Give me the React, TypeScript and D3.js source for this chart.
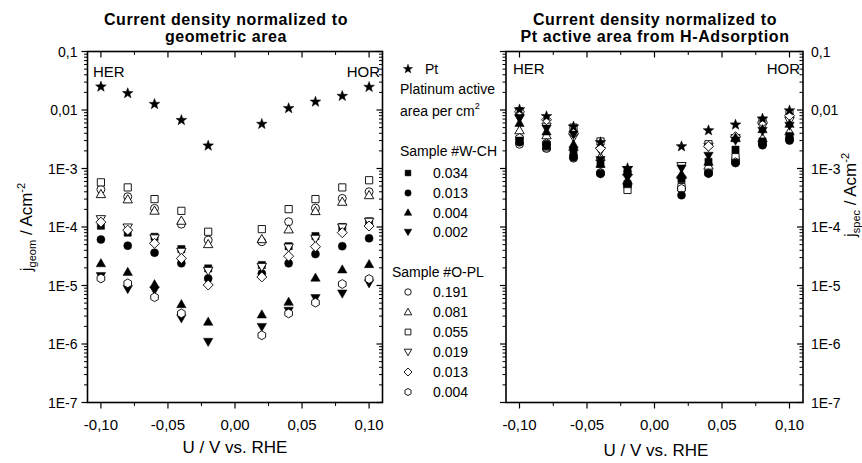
import React from 'react';
import * as d3 from 'd3';

// ---------- data ----------
const potentials = [-0.10, -0.08, -0.06, -0.04, -0.02, 0.02, 0.04, 0.06, 0.08, 0.10];
const xTickValues = [-0.10, -0.05, 0.0, 0.05, 0.10];
const xTickLabels = ['-0,10', '-0,05', '0,00', '0,05', '0,10'];
const xMinorTicks = [-0.075, -0.025, 0.025, 0.075];
const yTickValues = [1e-1, 1e-2, 1e-3, 1e-4, 1e-5, 1e-6, 1e-7];
const yTickLabels = ['0,1', '0,01', '1E-3', '1E-4', '1E-5', '1E-6', '1E-7'];

// left panel: current density normalized to geometric area (A cm^-2)
const geomPt = [0.025, 0.0193, 0.0126, 0.0067, 0.00245, 0.00575, 0.0107, 0.0138, 0.0173, 0.0247];
const geomWCH034 = [1.05e-4, 8.0e-5, 6.8e-5, 4.2e-5, 1.96e-5, 2.24e-5, 4.7e-5, 7.0e-5, 1.0e-4, 1.25e-4];
const geomWCH013 = [6.1e-5, 4.8e-5, 3.63e-5, 2.4e-5, 1.32e-5, 1.6e-5, 2.39e-5, 3.44e-5, 4.7e-5, 6.4e-5];
const geomWCH004 = [2.4e-5, 1.71e-5, 1.05e-5, 4.8e-6, 2.4e-6, 3.2e-6, 5.26e-6, 1.36e-5, 1.88e-5, 2.32e-5];
const geomWCH002 = [1.45e-5, 8.7e-6, 8.3e-6, 2.75e-6, 1.09e-6, 1.96e-6, 3.7e-6, 6.1e-6, 7.3e-6, 1.09e-5];
const geomOPL191 = [4.4e-4, 3.29e-4, 2.08e-4, 1.12e-4, 5.97e-5, 5.6e-5, 1.23e-4, 2.1e-4, 3.08e-4, 4.0e-4];
const geomOPL081 = [3.65e-4, 2.97e-4, 1.9e-4, 1.28e-4, 5.1e-5, 6.2e-5, 9.1e-5, 1.87e-4, 2.7e-4, 3.5e-4];
const geomOPL055 = [5.8e-4, 4.75e-4, 3.0e-4, 1.89e-4, 8.3e-5, 9.2e-5, 2.02e-4, 3.0e-4, 4.75e-4, 6.3e-4];
const geomOPL019 = [1.36e-4, 9.8e-5, 6.4e-5, 3.77e-5, 1.78e-5, 2.08e-5, 4.47e-5, 6.3e-5, 9.8e-5, 1.23e-4];
const geomOPL013 = [1.21e-4, 8.85e-5, 5.25e-5, 2.9e-5, 1.02e-5, 1.4e-5, 3.17e-5, 4.6e-5, 8.0e-5, 1.04e-4];
const geomOPL004 = [1.32e-5, 1.09e-5, 6.3e-6, 3.33e-6, null, 1.41e-6, 3.33e-6, 5.1e-6, 1.06e-5, 1.29e-5];

// right panel: current density normalized to Pt active area (A cm^-2)
const specPt = [0.0102, 0.0078, 0.0052, 0.0028, 0.00101, 0.00238, 0.00447, 0.0056, 0.0071, 0.0098];
const specWCH034 = [3.0e-3, 2.4e-3, 2.0e-3, 1.2e-3, 5.4e-4, 6.6e-4, 1.3e-3, 2.1e-3, 2.9e-3, 3.6e-3];
const specWCH013 = [2.8e-3, 2.6e-3, 1.55e-3, 8.1e-4, 8.9e-4, 3.5e-4, 8.2e-4, 1.24e-3, 2.5e-3, 3.0e-3];
const specWCH004 = [6.0e-3, 4.3e-3, 2.6e-3, 1.2e-3, 6.0e-4, 8.0e-4, 1.3e-3, 3.4e-3, 4.7e-3, 5.8e-3];
const specWCH002 = [7.3e-3, 4.8e-3, 3.8e-3, 1.4e-3, 7.0e-4, 1.0e-3, 1.65e-3, 3.0e-3, 4.4e-3, 5.4e-3];
const specOPL191 = [2.6e-3, 2.2e-3, 1.5e-3, 8.5e-4, 5.0e-4, 4.5e-4, 9.0e-4, 1.4e-3, 2.6e-3, 3.1e-3];
const specOPL081 = [4.5e-3, 3.7e-3, 2.35e-3, 1.58e-3, 6.3e-4, 7.7e-4, 1.12e-3, 3.3e-3, 3.3e-3, 4.3e-3];
const specOPL055 = [9.5e-3, 2.3e-3, 5.0e-3, 2.9e-3, 4.3e-4, 4.8e-4, 2.6e-3, 1.56e-3, 6.5e-3, 8.5e-3];
const specOPL019 = [7.2e-3, 5.2e-3, 3.4e-3, 2.0e-3, 9.4e-4, 1.1e-3, 2.35e-3, 3.3e-3, 5.2e-3, 6.5e-3];
const specOPL013 = [9.3e-3, 6.8e-3, 4.0e-3, 2.2e-3, 7.8e-4, 7.1e-4, 2.4e-3, 3.5e-3, 6.2e-3, 8.0e-3];
const specOPL004 = [3.3e-3, 2.7e-3, 1.6e-3, 8.3e-4, null, 4.5e-4, 8.3e-4, 1.28e-3, 2.65e-3, 3.2e-3];

const wchLabels = ['0.034', '0.013', '0.004', '0.002'];
const oplLabels = ['0.191', '0.081', '0.055', '0.019', '0.013', '0.004'];

type Shape = 'star' | 'square' | 'circle' | 'triUp' | 'triDown' | 'diamond' | 'hexagon';
interface Series { shape: Shape; filled: boolean; geom: (number | null)[]; spec: (number | null)[]; }

const ptSeries: Series = { shape: 'star', filled: true, geom: geomPt, spec: specPt };
const wchSeries: Series[] = [
  { shape: 'square', filled: true, geom: geomWCH034, spec: specWCH034 },
  { shape: 'circle', filled: true, geom: geomWCH013, spec: specWCH013 },
  { shape: 'triUp', filled: true, geom: geomWCH004, spec: specWCH004 },
  { shape: 'triDown', filled: true, geom: geomWCH002, spec: specWCH002 },
];
const oplSeries: Series[] = [
  { shape: 'circle', filled: false, geom: geomOPL191, spec: specOPL191 },
  { shape: 'triUp', filled: false, geom: geomOPL081, spec: specOPL081 },
  { shape: 'square', filled: false, geom: geomOPL055, spec: specOPL055 },
  { shape: 'triDown', filled: false, geom: geomOPL019, spec: specOPL019 },
  { shape: 'diamond', filled: false, geom: geomOPL013, spec: specOPL013 },
  { shape: 'hexagon', filled: false, geom: geomOPL004, spec: specOPL004 },
];

// ---------- marker shapes ----------
function markerPath(shape: Shape, s = 1): string {
  switch (shape) {
    case 'square': {
      const h = 3.6 * s;
      return `M${-h},${-h}H${h}V${h}H${-h}Z`;
    }
    case 'circle': {
      const r = 4 * s;
      return `M${r},0A${r},${r} 0 1,1 ${-r},0A${r},${r} 0 1,1 ${r},0Z`;
    }
    case 'triUp': {
      const a = 4.7 * s;
      return `M0,${-a}L${a},${a * 0.75}L${-a},${a * 0.75}Z`;
    }
    case 'triDown': {
      const a = 4.7 * s;
      return `M0,${a}L${a},${-a * 0.75}L${-a},${-a * 0.75}Z`;
    }
    case 'diamond': {
      const a = 5 * s;
      return `M0,${-a}L${a},0L0,${a}L${-a},0Z`;
    }
    case 'hexagon': {
      const r = 4.4 * s;
      const pts = d3.range(6).map((i) => {
        const ang = (Math.PI / 3) * i - Math.PI / 2;
        return [r * Math.cos(ang), r * Math.sin(ang)];
      });
      return 'M' + pts.map((p) => p.join(',')).join('L') + 'Z';
    }
    case 'star': {
      const R = 5.6 * s;
      const r = 2.3 * s;
      const pts = d3.range(10).map((i) => {
        const ang = (Math.PI / 5) * i - Math.PI / 2;
        const rr = i % 2 === 0 ? R : r;
        return [rr * Math.cos(ang), rr * Math.sin(ang)];
      });
      return 'M' + pts.map((p) => p.map((v) => v.toFixed(2)).join(',')).join('L') + 'Z';
    }
  }
  return '';
}

function Marker({ shape, filled, x, y, s = 1 }: { shape: Shape; filled: boolean; x: number; y: number; s?: number }) {
  return (
    <path
      d={markerPath(shape, s)}
      transform={`translate(${x},${y})`}
      fill={filled ? '#000' : '#fff'}
      stroke="#000"
      strokeWidth={filled ? 0.5 : 0.9}
    />
  );
}

const FONT = 'Liberation Sans, Arial, sans-serif';

interface PanelProps {
  x0: number; x1: number; y0: number; y1: number;
  series: Series[];
  key2: 'geom' | 'spec';
  labelSide: 'left' | 'right';
}

function Panel({ x0, x1, y0, y1, series, key2, labelSide }: PanelProps) {
  const xs = d3.scaleLinear().domain([-0.11, 0.11]).range([x0, x1]);
  const ys = d3.scaleLog().domain([1e-7, 1e-1]).range([y1, y0]);
  const minorY: number[] = [];
  for (let e = -7; e < -1; e++) {
    for (let m = 2; m <= 9; m++) minorY.push(m * Math.pow(10, e));
  }
  const tickLen = 6;
  const minorLen = 3.5;
  return (
    <g>
      {[x0, x1].map((ax, i) => (
        <g key={'yt' + i}>
          {yTickValues.map((v) => (
            <line key={v} x1={ax - tickLen} x2={ax} y1={ys(v)} y2={ys(v)} stroke="#000" strokeWidth={1.2} />
          ))}
          {minorY.map((v) => (
            <line key={v} x1={ax - minorLen} x2={ax} y1={ys(v)} y2={ys(v)} stroke="#000" strokeWidth={1} />
          ))}
        </g>
      ))}
      {[y0, y1].map((ay, i) => (
        <g key={'xt' + i}>
          {xTickValues.map((v) => (
            <line key={v} x1={xs(v)} x2={xs(v)} y1={ay} y2={ay + tickLen} stroke="#000" strokeWidth={1.2} />
          ))}
          {xMinorTicks.map((v) => (
            <line key={v} x1={xs(v)} x2={xs(v)} y1={ay} y2={ay + minorLen} stroke="#000" strokeWidth={1} />
          ))}
        </g>
      ))}
      <rect x={x0} y={y0} width={x1 - x0} height={y1 - y0} fill="none" stroke="#000" strokeWidth={1.6} />
      {xTickValues.map((v, i) => (
        <text key={v} x={xs(v)} y={y1 + 27} textAnchor="middle" fontSize={15} fontFamily={FONT}>
          {xTickLabels[i]}
        </text>
      ))}
      {yTickValues.map((v, i) => (
        <text
          key={v}
          x={labelSide === 'left' ? x0 - 10 : x1 + 8}
          y={ys(v) + 5}
          textAnchor={labelSide === 'left' ? 'end' : 'start'}
          fontSize={14}
          fontFamily={FONT}
        >
          {yTickLabels[i]}
        </text>
      ))}
      {series.map((s, si) =>
        s[key2].map((v, i) =>
          v == null ? null : (
            <Marker key={si + '-' + i} shape={s.shape} filled={s.filled} x={xs(potentials[i])} y={ys(v)} />
          )
        )
      )}
    </g>
  );
}

export default function App() {
  const L = { x0: 87.5, x1: 382.5, y0: 51.5, y1: 402.5 };
  const R = { x0: 506, x1: 803, y0: 51.5, y1: 402.5 };
  const legendMX = 408;
  const legendTX = 433;
  const wchY = [173, 193, 212.5, 232];
  const oplY = [292, 312, 332, 352, 372, 392];
  const titleStyle = { letterSpacing: '0.6px' };
  return (
    <svg
      width={862}
      height={463}
      style={{ position: 'absolute', left: 0, top: 0, background: '#fff' }}
      fontFamily={FONT}
    >
      <rect x={0} y={0} width={862} height={463} fill="#fff" />
      <text x={226} y={25} textAnchor="middle" fontSize={16} fontWeight="bold" style={titleStyle}>Current density normalized to</text>
      <text x={226} y={42} textAnchor="middle" fontSize={16} fontWeight="bold" style={titleStyle}>geometric area</text>
      <text x={655} y={25} textAnchor="middle" fontSize={16} fontWeight="bold" style={titleStyle}>Current density normalized to</text>
      <text x={655} y={42} textAnchor="middle" fontSize={16} fontWeight="bold" style={titleStyle}>Pt active area from H-Adsorption</text>

      <Panel {...L} series={[ptSeries, ...wchSeries, ...oplSeries]} key2="geom" labelSide="left" />
      <Panel {...R} series={[...oplSeries, ...wchSeries, ptSeries]} key2="spec" labelSide="right" />

      <text x={93} y={77} fontSize={15}>HER</text>
      <text x={380} y={77} fontSize={15} textAnchor="end">HOR</text>
      <text x={513} y={74} fontSize={15}>HER</text>
      <text x={800} y={74} fontSize={15} textAnchor="end">HOR</text>

      <text x={235} y={453} textAnchor="middle" fontSize={17}>U / V vs. RHE</text>
      <text x={656} y={456} textAnchor="middle" fontSize={17}>U / V vs. RHE</text>
      <text transform="translate(32,227) rotate(-90)" textAnchor="middle" fontSize={17}>
        j<tspan fontSize={11} dy={4}>geom</tspan>
        <tspan dy={-4}> / Acm</tspan>
        <tspan fontSize={11} dy={-7}>-2</tspan>
      </text>
      <text transform="translate(856,195) rotate(-90)" textAnchor="middle" fontSize={17}>
        j<tspan fontSize={11} dy={4}>spec</tspan>
        <tspan dy={-4}> / Acm</tspan>
        <tspan fontSize={11} dy={-7}>-2</tspan>
      </text>

      <Marker shape="star" filled={true} x={legendMX} y={69} s={0.85} />
      <text x={425} y={74} fontSize={14}>Pt</text>
      <text x={400} y={94} fontSize={14}>Platinum active</text>
      <text x={400} y={116} fontSize={14}>
        area per cm<tspan fontSize={9} dy={-7}>2</tspan>
      </text>
      <text x={400} y={156} fontSize={14}>Sample #W-CH</text>
      {wchSeries.map((s, i) => (
        <g key={'lw' + i}>
          <Marker shape={s.shape} filled={s.filled} x={legendMX} y={wchY[i]} s={0.8} />
          <text x={legendTX} y={wchY[i] + 5} fontSize={14}>{wchLabels[i]}</text>
        </g>
      ))}
      <text x={392} y={277} fontSize={14}>Sample #O-PL</text>
      {oplSeries.map((s, i) => (
        <g key={'lo' + i}>
          <Marker shape={s.shape} filled={s.filled} x={legendMX} y={oplY[i]} s={0.8} />
          <text x={legendTX} y={oplY[i] + 5} fontSize={14}>{oplLabels[i]}</text>
        </g>
      ))}
    </svg>
  );
}
